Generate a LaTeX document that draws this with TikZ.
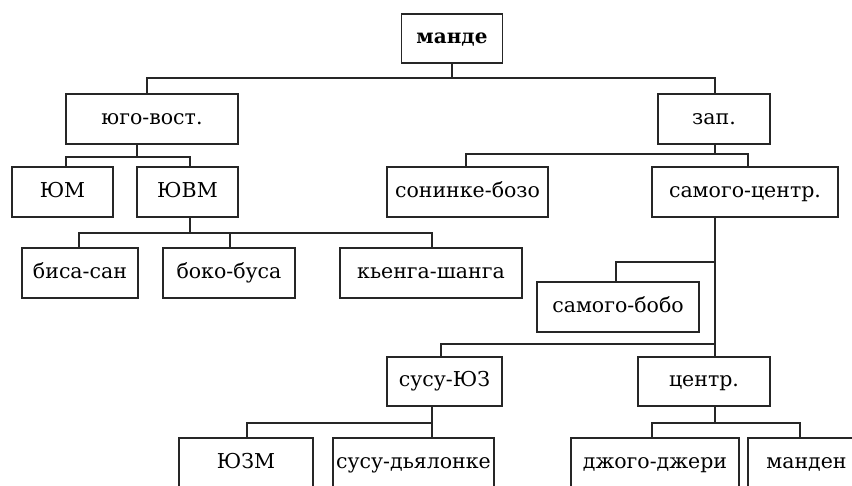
\documentclass[tikz,border=0pt]{standalone}
\usepackage{fontspec}
\setmainfont{DejaVu Serif}
\begin{document}
\begin{tikzpicture}[x=1pt,y=-1pt,
  box/.style={draw=black!85, line width=1.5pt, minimum height=50pt, inner sep=0pt, outer sep=0pt, text height=15pt, text depth=4.5pt, font=\fontsize{20.5}{24}\selectfont},
  wire/.style={draw=black!85, line width=1.5pt}]
\useasboundingbox (0,0) rectangle (852,485);
\clip (0,0) rectangle (852,485);
% nodes
\node[box, minimum width=101pt, minimum height=49pt, font=\fontsize{20}{24}\selectfont\bfseries] (mande) at (452,38.5) {манде};
\node[box, minimum width=172pt] (yugo) at (152,119) {юго-вост.};
\node[box, minimum width=112pt] (zap) at (714,119) {зап.};
\node[box, minimum width=101pt] (yum) at (62.5,192) {ЮМ};
\node[box, minimum width=101pt] (yuvm) at (187.5,192) {ЮВМ};
\node[box, minimum width=161pt] (soninke) at (467.5,192) {сонинке-бозо};
\node[box, minimum width=186pt] (samc) at (745,192) {самого-центр.};
\node[box, minimum width=116pt] (bisa) at (80,273) {биса-сан};
\node[box, minimum width=132pt] (boko) at (229,273) {боко-буса};
\node[box, minimum width=182pt] (kyenga) at (431,273) {кьенга-шанга};
\node[box, minimum width=162pt] (samb) at (618,307) {самого-бобо};
\node[box, minimum width=115pt, minimum height=49pt] (susu) at (444.5,381.5) {сусу-ЮЗ};
\node[box, minimum width=132pt, minimum height=49pt] (centr) at (704,381.5) {центр.};
\node[box, minimum width=134pt] (yuzm) at (246,463) {ЮЗМ};
\node[box, minimum width=161pt] (susud) at (413.5,463) {сусу-дьялонке};
\node[box, minimum width=168pt] (dzhogo) at (655,463) {джого-джери};
\node[box, minimum width=117pt] (manden) at (806.5,463) {манден};
% connectors
\draw[wire] (mande.south) -- ++(0,15) coordinate (j0);
\draw[wire] ([xshift=-5pt]yugo.north) |- (j0);
\draw[wire] ([xshift=1pt]zap.north) |- (j0);

\draw[wire] ([xshift=-15pt]yugo.south) -- ++(0,13) coordinate (j1);
\draw[wire] ([xshift=3.5pt]yum.north) |- (j1);
\draw[wire] ([xshift=2.5pt]yuvm.north) |- (j1);

\draw[wire] ([xshift=2.5pt]yuvm.south) -- ++(0,16) coordinate (j2);
\draw[wire] ([xshift=-1pt]bisa.north) |- (j2);
\draw[wire] ([xshift=1pt]boko.north) |- (j2);
\draw[wire] ([xshift=1pt]kyenga.north) |- (j2);

\draw[wire] ([xshift=1pt]zap.south) -- ++(0,10) coordinate (j3);
\draw[wire] ([xshift=-1.5pt]soninke.north) |- (j3);
\draw[wire] ([xshift=3pt]samc.north) |- (j3);

\draw[wire] ([xshift=-30pt]samc.south) -- ([xshift=11pt]centr.north);
\draw[wire] ([xshift=-2pt]samb.north) |- ([xshift=-30pt,yshift=-45pt]samc.south) coordinate (j4);
\draw[wire] ([xshift=-3.5pt]susu.north) |- ([xshift=11pt,yshift=13pt]centr.north) coordinate (j5);

\draw[wire] ([xshift=-12.5pt]susu.south) -- ++(0,17) coordinate (j6);
\draw[wire] ([xshift=1pt]yuzm.north) |- (j6);
\draw[wire] ([xshift=18.5pt]susud.north) -- (j6);

\draw[wire] ([xshift=11pt]centr.south) -- ++(0,17) coordinate (j7);
\draw[wire] ([xshift=-3pt]dzhogo.north) |- (j7);
\draw[wire] ([xshift=-6.5pt]manden.north) |- (j7);
\end{tikzpicture}
\end{document}
